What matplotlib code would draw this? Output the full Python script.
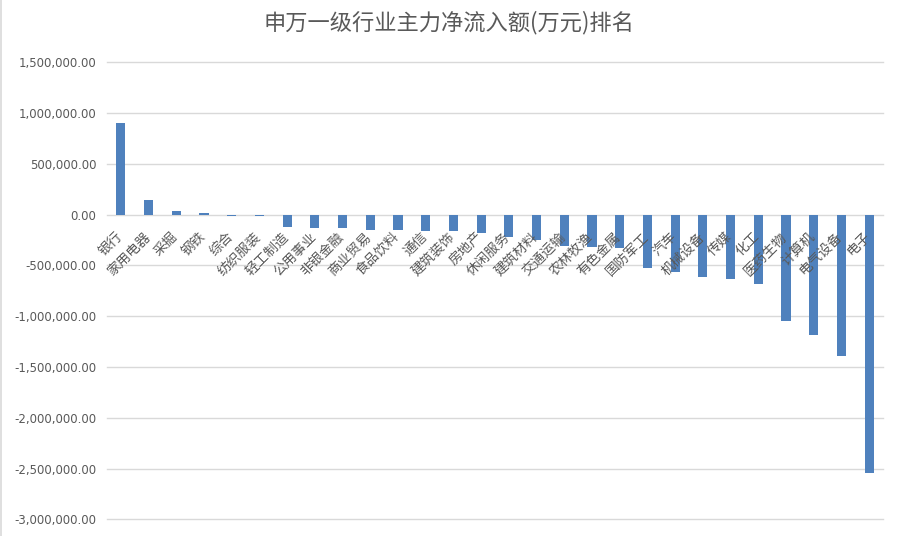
import matplotlib
matplotlib.use('Agg')
import matplotlib.pyplot as plt
import matplotlib.transforms as mtransforms
from matplotlib.ticker import FuncFormatter, MultipleLocator

plt.rcParams['font.family'] = ['Noto Sans CJK SC', 'DejaVu Sans']

# 申万一级行业 主力净流入额(万元)
industries = ['银行', '家用电器', '采掘', '钢铁', '综合', '纺织服装', '轻工制造', '公用事业',
              '非银金融', '商业贸易', '食品饮料', '通信', '建筑装饰', '房地产', '休闲服务',
              '建筑材料', '交通运输', '农林牧渔', '有色金属', '国防军工', '汽车', '机械设备',
              '传媒', '化工', '医药生物', '计算机', '电气设备', '电子']
net_inflow = [905000, 147000, 39000, 10000, -15000, -12000, -125000, -135000,
              -135000, -157000, -150000, -164000, -167000, -184000, -223000,
              -246000, -312000, -321000, -331000, -528000, -567000, -616000,
              -636000, -685000, -1050000, -1187000, -1396000, -2544000]

title = '申万一级行业主力净流入额(万元)排名'
grey = '#595959'

fig = plt.figure(figsize=(8.98, 5.36), dpi=100)
ax = fig.add_axes([0.1192, 0.0308, 0.9833 - 0.1192, 0.8843 - 0.0308])

x = list(range(len(industries)))
ax.bar(x, net_inflow, width=0.33, color='#4F81BD', zorder=3)

ax.set_xlim(-0.5, len(industries) - 0.5)
ax.set_ylim(-3000000, 1500000)
ax.yaxis.set_major_locator(MultipleLocator(500000))
ax.yaxis.set_major_formatter(FuncFormatter(lambda v, p: f'{v:,.2f}'))
ax.grid(axis='y', color='#D9D9D9', linewidth=1.0, zorder=0)
ax.set_xticks([])
for s in ax.spines.values():
    s.set_visible(False)
ax.tick_params(axis='y', length=0, pad=7.5, labelcolor=grey)
for lbl in ax.get_yticklabels():
    lbl.set_family('DejaVu Sans')
    lbl.set_fontsize(8.5)
for gl in ax.get_ygridlines():
    gl.set_clip_on(False)

# category labels hang under the zero line, rotated
trans = mtransforms.offset_copy(ax.transData, fig=fig, x=-6, y=-15, units='dots')
for i, name in enumerate(industries):
    ax.text(i, 0, name, transform=trans, rotation=45, rotation_mode='anchor',
            ha='right', va='top', fontsize=9.8, color=grey, zorder=4)

fig.text(0.5, 0.958, title, ha='center', va='center', fontsize=16, color=grey)
fig.add_artist(plt.Line2D([0.0015, 0.0015], [0, 1], transform=fig.transFigure,
                          color='#D9D9D9', linewidth=1.2))

fig.savefig('out.png', dpi=100)
